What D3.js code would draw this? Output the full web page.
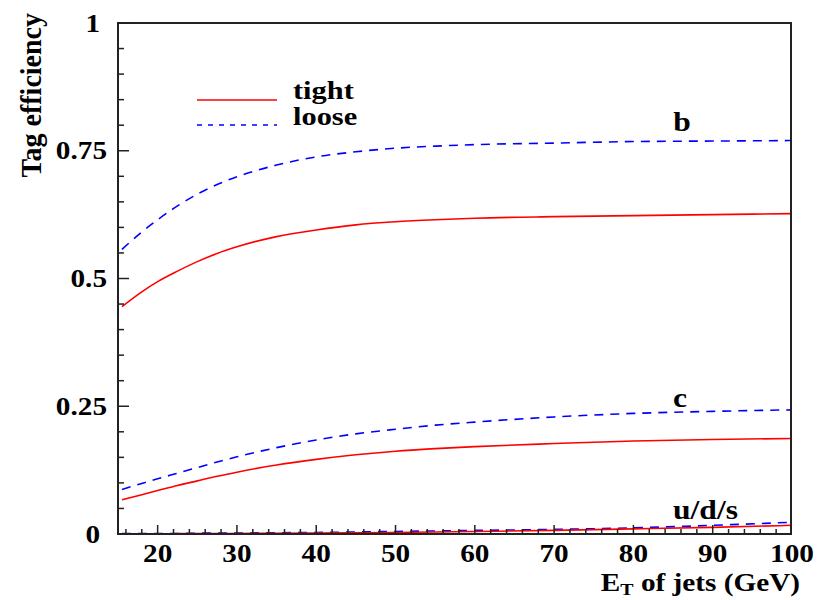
<!DOCTYPE html>
<html><head><meta charset="utf-8">
<script src="https://cdn.jsdelivr.net/npm/d3@7"></script>
<style>
html,body{margin:0;padding:0;background:#fff;}
svg{display:block;}
text{font-family:"Liberation Serif","Times New Roman",serif;font-weight:bold;fill:#000;}
</style></head>
<body>
<svg id="chart" width="829" height="600"></svg>
<script>
// ---- data ----
const et = [15.5, 18, 20, 22.5, 25, 27.5, 30, 35, 40, 45, 50, 55, 60, 70, 80, 90, 100];
const bLoose = [0.557, 0.591, 0.615, 0.642, 0.665, 0.684, 0.699, 0.722, 0.738, 0.748, 0.755, 0.759, 0.762, 0.765, 0.768, 0.769, 0.770];
const bTight = [0.445, 0.474, 0.494, 0.5145, 0.533, 0.549, 0.562, 0.582, 0.595, 0.605, 0.611, 0.615, 0.618, 0.621, 0.623, 0.625, 0.627];
const cLoose = [0.087, 0.099, 0.108, 0.119, 0.130, 0.141, 0.151, 0.169, 0.184, 0.196, 0.205, 0.213, 0.219, 0.229, 0.236, 0.240, 0.243];
const cTight = [0.067, 0.077, 0.085, 0.095, 0.104, 0.113, 0.121, 0.135, 0.146, 0.155, 0.162, 0.167, 0.171, 0.177, 0.182, 0.185, 0.187];
const udsLoose = [0.001, 0.001, 0.001, 0.001, 0.0015, 0.002, 0.002, 0.0025, 0.003, 0.004, 0.005, 0.006, 0.007, 0.009, 0.012, 0.017, 0.023];
const udsTight = [0.0005, 0.0005, 0.0005, 0.0007, 0.0008, 0.001, 0.001, 0.0015, 0.002, 0.0025, 0.003, 0.004, 0.005, 0.007, 0.010, 0.013, 0.017];
const yTickValues = [0, 0.25, 0.5, 0.75, 1];
const yTickLabels = ["0", "0.25", "0.5", "0.75", "1"];
const xTickValues = [20, 30, 40, 50, 60, 70, 80, 90, 100];
const flavourLabels = ["b", "c", "u/d/s"];
const legendItems = ["tight", "loose"];

// ---- layout ----
const svg = d3.select("#chart");
const L = 118, R = 791, T = 23, B = 534;
const SX = 1.17; // horizontal text stretch of the original
const x = d3.scaleLinear().domain([15, 100]).range([L, R + 1]);
const y = d3.scaleLinear().domain([0, 1]).range([B, T]);

function stext(g, str, px, py, size, anchor) {
  return g.append("text")
    .attr("transform", `translate(${px},${py}) scale(${SX},1)`)
    .attr("text-anchor", anchor || "start")
    .style("font-size", size + "px")
    .text(str);
}

// curves
const line = (vals) => d3.line().curve(d3.curveMonotoneX)
  .x((d, i) => x(et[i])).y(d => y(d))(vals);
const curves = [
  {v: bTight, dash: null, c: "#ff0000"},
  {v: bLoose, dash: "9,7", c: "#0000ff"},
  {v: cTight, dash: null, c: "#ff0000"},
  {v: cLoose, dash: "9,7", c: "#0000ff"},
  {v: udsLoose, dash: "9,7", c: "#0000ff"},
  {v: udsTight, dash: null, c: "#ff0000"}
];
curves.forEach(cv => {
  svg.append("path").attr("d", line(cv.v))
    .attr("fill", "none").attr("stroke", cv.c).attr("stroke-width", 1.6)
    .attr("stroke-dasharray", cv.dash);
});

// frame
svg.append("rect").attr("x", L).attr("y", T).attr("width", R - L).attr("height", B - T)
  .attr("fill", "none").attr("stroke", "#222").attr("stroke-width", 2);

// y ticks (inward)
const yt = svg.append("g");
d3.range(0, 21).forEach(i => {
  const v = i * 0.05;
  const major = i % 5 === 0;
  yt.append("line").attr("x1", L).attr("x2", L + (major ? 11 : 6))
    .attr("y1", y(v)).attr("y2", y(v)).attr("stroke", "#222").attr("stroke-width", 1.5);
});
yTickValues.forEach((v, i) => {
  const lab = yTickLabels[i];
  stext(svg, lab, lab.length > 1 ? 107 : 100, y(v) + 8.5, 25, "end");
});

// x ticks (inward)
const xt = svg.append("g");
d3.range(16, 100, 2).forEach(v => {
  const major = v % 10 === 0;
  xt.append("line").attr("x1", x(v)).attr("x2", x(v))
    .attr("y1", B).attr("y2", B - (major ? 9 : 5)).attr("stroke", "#222").attr("stroke-width", 1.5);
});
xTickValues.forEach(v => stext(svg, String(v), x(v), 562, 25, "middle"));

// axis titles
const xt2 = svg.append("text")
  .attr("transform", `translate(800,591) scale(${SX},1)`)
  .attr("text-anchor", "end").style("font-size", "25px");
xt2.append("tspan").text("E");
xt2.append("tspan").attr("dy", 4).style("font-size", "17px").text("T");
xt2.append("tspan").attr("dy", -4).text(" of jets (GeV)");

svg.append("text")
  .attr("transform", `translate(41,13) scale(1.08,1) rotate(-90)`)
  .attr("text-anchor", "end").style("font-size", "28px")
  .text("Tag efficiency");

// legend
svg.append("line").attr("x1", 197).attr("x2", 277).attr("y1", 100).attr("y2", 100)
  .attr("stroke", "#ff0000").attr("stroke-width", 1.6);
svg.append("line").attr("x1", 197).attr("x2", 277).attr("y1", 125).attr("y2", 125)
  .attr("stroke", "#0000ff").attr("stroke-width", 1.4).attr("stroke-dasharray", "5,6");
stext(svg, legendItems[0], 293, 99, 26);
stext(svg, legendItems[1], 293, 125, 26);

// flavour labels
const labelPos = [[682, 131], [680, 407], [705.5, 519]];
flavourLabels.forEach((t, i) => stext(svg, t, labelPos[i][0], labelPos[i][1], 27, "middle"));
</script>
</body></html>
